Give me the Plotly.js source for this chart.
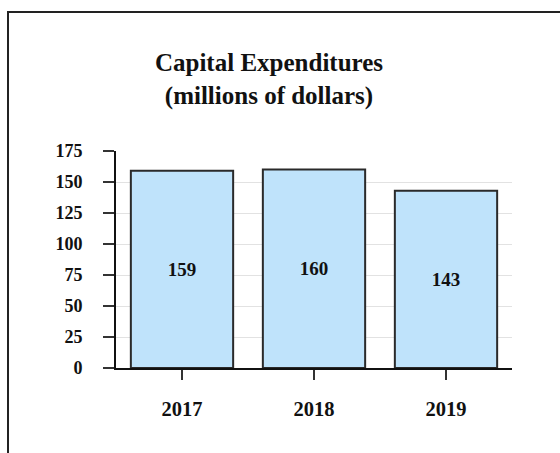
<!DOCTYPE html>
<html>
<head>
<meta charset="utf-8">
<script src="https://cdn.plot.ly/plotly-3.0.1.min.js"></script>
<style>html,body{margin:0;padding:0;background:#fff;}#chart{width:560px;height:453px;}</style>
</head>
<body>
<div id="chart"></div>
<script>
const years = ['2017', '2018', '2019'];
const capex = [159, 160, 143];
const yTicks = [0, 25, 50, 75, 100, 125, 150, 175];

const serif = 'Liberation Serif';

const trace = {
  type: 'bar',
  x: years,
  y: capex,
  text: capex.map(String),
  textposition: 'inside',
  insidetextanchor: 'middle',
  textangle: 0,
  textfont: {family: serif, size: 19, color: '#111', weight: 'bold'},
  marker: {color: '#bfe3fb', line: {color: '#2a2a2a', width: 2}},
  hoverinfo: 'none'
};

const layout = {
  width: 560, height: 453,
  margin: {l: 116, r: 48, t: 151, b: 85},
  paper_bgcolor: '#fff', plot_bgcolor: '#fff',
  showlegend: false,
  bargap: 0.225,
  font: {family: serif},
  title: {
    text: 'Capital Expenditures<br>(millions of dollars)',
    font: {family: serif, size: 25, color: '#111', weight: 'bold'},
    x: 269/560, xref: 'container', xanchor: 'center',
    y: 1 - 71/453, yref: 'container', yanchor: 'middle'
  },
  xaxis: {
    type: 'category',
    range: [-0.5, 2.5],
    showline: true, linecolor: '#111', linewidth: 2,
    ticks: 'outside', ticklen: 10, tickwidth: 1.5, tickcolor: '#333',
    ticklabelstandoff: 11,
    tickfont: {family: serif, size: 20.5, color: '#111', weight: 'bold'},
    showgrid: false, zeroline: false, fixedrange: true
  },
  yaxis: {
    range: [0, 175],
    tickvals: yTicks,
    ticktext: yTicks.map(String),
    showline: true, linecolor: '#111', linewidth: 2,
    ticks: 'outside', ticklen: 11, tickwidth: 1.5, tickcolor: '#333',
    ticklabelstandoff: 17,
    tickfont: {family: serif, size: 18, color: '#111', weight: 'bold'},
    showgrid: true, gridcolor: '#e2e2e2', gridwidth: 1,
    zeroline: false, fixedrange: true
  },
  shapes: [{
    type: 'rect', xref: 'paper', yref: 'paper',
    x0: -0.2727, x1: 1.3, y0: -0.6, y1: 1.6406,
    line: {color: '#222', width: 2}, fillcolor: 'rgba(0,0,0,0)', layer: 'below'
  }]
};

Plotly.newPlot('chart', [trace], layout, {displayModeBar: false, staticPlot: true});
</script>
</body>
</html>
